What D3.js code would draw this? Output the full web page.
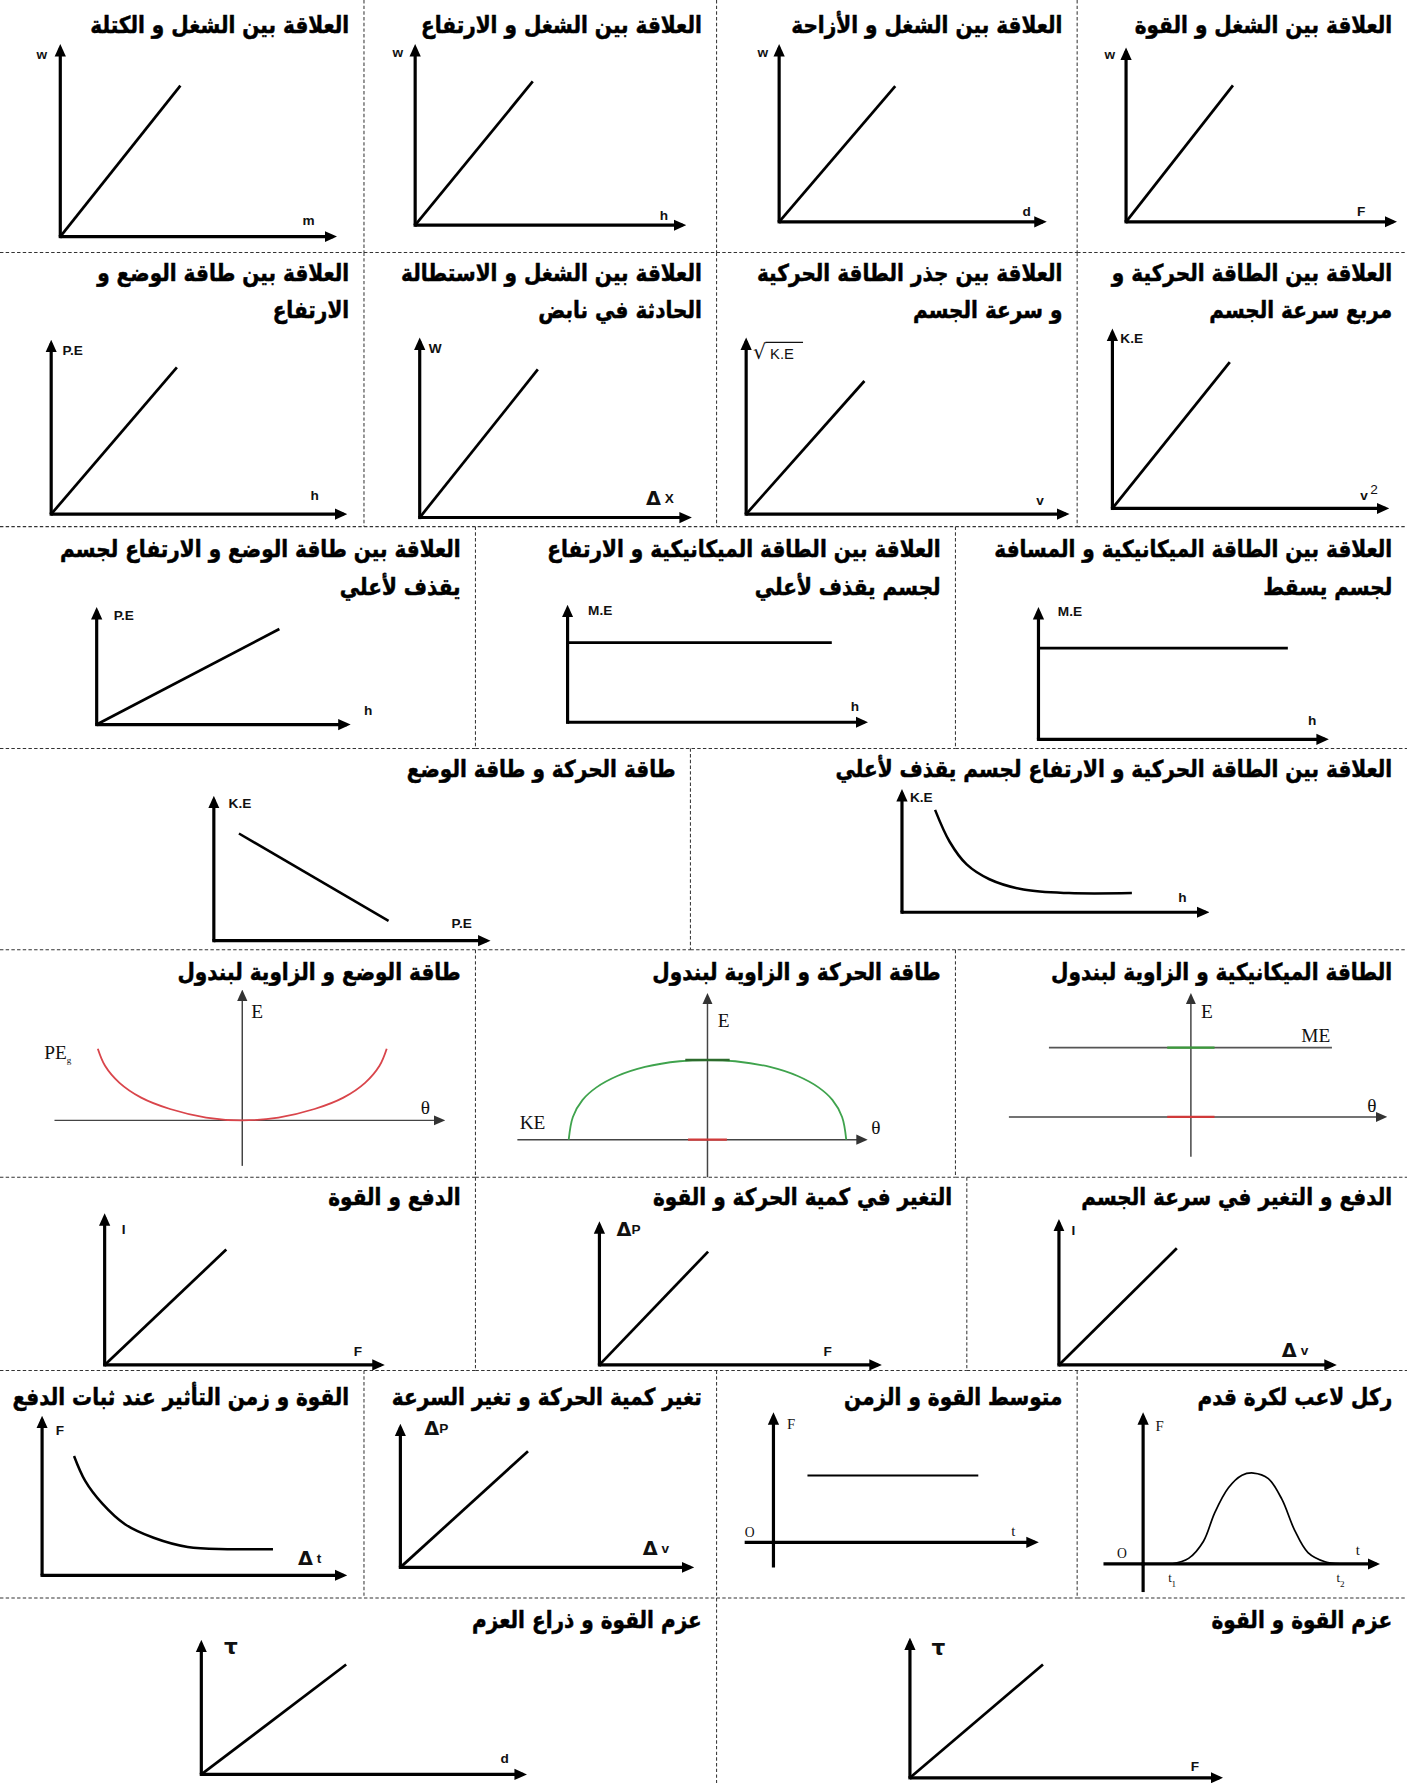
<!DOCTYPE html>
<html>
<head>
<meta charset="utf-8">
<script src="https://cdn.jsdelivr.net/npm/d3@7"></script>
<style>
  body { margin: 0; background: #fff; }
</style>
</head>
<body>
<script>
// ---- data (panel order: right to left, top to bottom) ----
let titles = [
  ["العلاقة بين الشغل و القوة"],
  ["العلاقة بين الشغل و  الأزاحة"],
  ["العلاقة بين الشغل و الارتفاع"],
  ["العلاقة بين الشغل و الكتلة"],
  ["العلاقة بين الطاقة الحركية و", "مربع سرعة الجسم"],
  ["العلاقة بين جذر الطاقة الحركية", "و سرعة الجسم"],
  ["العلاقة بين الشغل و الاستطالة", "الحادثة في نابض"],
  ["العلاقة بين طاقة الوضع و", "الارتفاع"],
  ["العلاقة بين الطاقة الميكانيكية و المسافة", "لجسم يسقط"],
  ["العلاقة بين الطاقة الميكانيكية و الارتفاع", "لجسم يقذف لأعلي"],
  ["العلاقة بين طاقة الوضع و الارتفاع لجسم", "يقذف لأعلي"],
  ["العلاقة بين الطاقة الحركية و الارتفاع لجسم يقذف لأعلي"],
  ["طاقة الحركة و طاقة الوضع"],
  ["الطاقة الميكانيكية و الزاوية لبندول"],
  ["طاقة الحركة و الزاوية لبندول"],
  ["طاقة الوضع و الزاوية لبندول"],
  ["الدفع و التغير في سرعة الجسم"],
  ["التغير في كمية الحركة و القوة"],
  ["الدفع و القوة"],
  ["ركل لاعب لكرة قدم"],
  ["متوسط القوة و الزمن"],
  ["تغير كمية الحركة و تغير السرعة"],
  ["القوة و زمن التأثير عند ثبات الدفع"],
  ["عزم القوة و القوة"],
  ["عزم القوة و ذراع العزم"]
];

let yNames = ["w", "w", "w", "w", "K.E", "√K.E", "W", "P.E", "M.E", "M.E", "P.E", "K.E", "K.E",
  "E", "E", "E", "I", "ΔP", "I", "F", "F", "ΔP", "F", "τ", "τ"];
let xNames = ["F", "d", "h", "m", "v^2", "v", "Δ X", "h", "h", "h", "h", "h", "P.E",
  "θ", "θ", "θ", "Δ v", "F", "F", "t", "t", "Δ v", "Δ t", "F", "d"];

// end point of the straight lines that start at the origin (null = other shape)
let straightEnds = [[4.0, 8.0], [4.4, 7.8], [4.4, 8.1], [4.4, 8.0], [4.3, 8.3], [3.7, 7.7], [4.4, 8.4], [4.3, 8.6],
  null, null, [7.3, 8.4], null, null, null, null, null,
  [4.3, 8.2], [3.9, 8.1], [4.4, 7.8], null, null, [4.4, 8.3], null, [4.3, 8.3], [4.5, 8.4]];

let meFalling = [[0, 7.1], [8.7, 7.1]];
let meThrown = [[0, 7.0], [8.9, 7.0]];
let keHeight = [[1.09, 8.57], [1.57, 5.9], [2.13, 4.0], [2.88, 2.76], [4.0, 1.9], [5.5, 1.6], [7.57, 1.6]];
let keVsPe = [[0.92, 7.6], [6.4, 1.4]];
let mePendulum = [[-7.8, 5.75], [7.75, 5.75]];
let kePendulum = [[-10, 0], [-9.7, 2.0], [-9, 3.5], [-8, 4.6], [-6.5, 5.6], [-4.5, 6.4], [-2, 6.9], [0, 7],
  [2, 6.9], [4.5, 6.4], [6.5, 5.6], [8, 4.6], [9, 3.5], [9.7, 2.0], [10, 0]];
let pePendulum = [[-10, 6.3], [-9.5, 4.8], [-8.5, 3.3], [-7, 2.0], [-5, 1.0], [-2.5, 0.25], [0, 0],
  [2.5, 0.25], [5, 1.0], [7, 2.0], [8.5, 3.3], [9.5, 4.8], [10, 6.3]];
let kickForce = [[1.22, 0], [1.95, 0.38], [2.59, 1.54], [3.07, 3.46], [3.66, 5.15], [4.24, 6.0], [4.73, 6.15],
  [5.37, 5.77], [5.95, 4.38], [6.49, 2.31], [7.07, 0.77], [7.8, 0.15], [8.44, 0]];
let averageForce = [[1.3, 5.3], [7.83, 5.3]];
let forceTime = [[1.06, 7.66], [1.43, 6.06], [2.0, 4.6], [2.75, 3.28], [3.7, 2.41], [4.83, 1.82], [6.15, 1.68], [7.66, 1.68]];

// ---- layout (in units of the 1237 wide reference) ----
let frames = [
  {cell: [947, 0, 1237, 222], xr: [990, 1225], yr: [195, 45], xLab: [1193, 190], yLab: [971, 52]},
  {cell: [630, 0, 947, 222], xr: [685, 917], yr: [195, 42], xLab: [899, 190], yLab: [666, 50]},
  {cell: [320, 0, 630, 222], xr: [365, 600], yr: [198, 42], xLab: [580, 193], yLab: [345, 50]},
  {cell: [0, 0, 320, 222], xr: [53, 293], yr: [208, 42], xLab: [266, 198], yLab: [32, 52]},
  {cell: [947, 222, 1237, 463], xr: [978, 1218], yr: [447, 292], xLab: [1196, 440], yLab: [985, 302]},
  {cell: [630, 222, 947, 463], xr: [656, 937], yr: [452, 300], xLab: [911, 444], yLab: [662, 316]},
  {cell: [320, 222, 630, 463], xr: [369, 605], yr: [455, 300], xLab: [568, 444], yLab: [377, 310]},
  {cell: [0, 222, 320, 463], xr: [45, 302], yr: [452, 302], xLab: [273, 440], yLab: [55, 312]},
  {cell: [840, 463, 1237, 658], xr: [913, 1165], yr: [650, 537], xLab: [1150, 637], yLab: [930, 542]},
  {cell: [418, 463, 840, 658], xr: [499, 760], yr: [635, 535], xLab: [748, 625], yLab: [517, 541]},
  {cell: [0, 463, 418, 658], xr: [85, 305], yr: [637, 537], xLab: [320, 629], yLab: [100, 545]},
  {cell: [607, 658, 1237, 835], xr: [793, 1060], yr: [802, 697], xLab: [1036, 793], yLab: [800, 705]},
  {cell: [0, 658, 607, 835], xr: [188, 428], yr: [827, 703], xLab: [397, 816], yLab: [201, 710]},
  {cell: [840, 835, 1237, 1035], xd: [-10, 10], xr: [887, 1207], yr: [982, 876], xAx: [-10, 10.6], yAx: [-3.3, 10],
    thin: true, xLab: [1202, 978], yLab: [1056, 895]},
  {cell: [418, 835, 840, 1035], xd: [-10, 10], xr: [500, 744], yr: [1002, 902], xAx: [-13.7, 11.3], yAx: [-3.3, 12.6],
    thin: true, xLab: [766, 997], yLab: [631, 903]},
  {cell: [0, 835, 418, 1035], xd: [-10, 10], xr: [86, 340], yr: [985, 885], xAx: [-13, 13.8], yAx: [-4, 11.2],
    thin: true, xLab: [370, 979], yLab: [221, 895]},
  {cell: [850, 1035, 1237, 1205], xr: [931, 1172], yr: [1200, 1075], xLab: [1127, 1193], yLab: [942, 1086]},
  {cell: [418, 1035, 850, 1205], xr: [527, 772], yr: [1200, 1077], xLab: [724, 1192], yLab: [542, 1087]},
  {cell: [0, 1035, 418, 1205], xr: [92, 335], yr: [1200, 1070], xLab: [311, 1192], yLab: [107, 1085]},
  {cell: [947, 1205, 1237, 1405], xr: [1005, 1210], yr: [1375, 1245], xAx: [-1.7, 10], yAx: [-1.9, 10],
    serif: true, xLab: [1192, 1367], yLab: [1016, 1258]},
  {cell: [630, 1205, 947, 1405], xr: [680, 910], yr: [1356, 1245], xAx: [-1.1, 10], yAx: [-2, 10],
    serif: true, xLab: [889, 1350], yLab: [692, 1256]},
  {cell: [320, 1205, 630, 1405], xr: [352, 607], yr: [1378, 1255], xLab: [565, 1367], yLab: [373, 1262]},
  {cell: [0, 1205, 320, 1405], xr: [37, 302], yr: [1385, 1248], xLab: [262, 1376], yLab: [49, 1262]},
  {cell: [630, 1405, 1237, 1568], xr: [800, 1072], yr: [1563, 1443], xLab: [1047, 1557], yLab: [819, 1455]},
  {cell: [0, 1405, 630, 1568], xr: [177, 460], yr: [1560, 1445], xLab: [440, 1550], yLab: [197, 1454]}
];
let titleBaselines = {0: [29], 222: [247, 280], 463: [490, 523], 658: [683], 835: [862], 1035: [1059], 1205: [1235], 1405: [1431]};

let k = 1407 / 1237;
let svg = d3.select("body").append("svg")
    .attr("width", 1407)
    .attr("height", 1783);
svg.append("rect").attr("width", 1407).attr("height", 1783).attr("fill", "#fff");

let defs = svg.append("defs");
function addMarker(id, size, color) {
  defs.append("marker")
      .attr("id", id)
      .attr("viewBox", "0 0 10 10")
      .attr("refX", 7).attr("refY", 5)
      .attr("markerWidth", size).attr("markerHeight", size)
      .attr("markerUnits", "userSpaceOnUse")
      .attr("orient", "auto")
    .append("path")
      .attr("d", "M0,0.5 L10,5 L0,9.5 Z")
      .attr("fill", color);
}
addMarker("arrow", 11, "#000");
addMarker("arrowThin", 10, "#333");

let g = svg.append("g").attr("transform", "scale(" + k + ")");

// dashed dividers
let grid = g.append("g").attr("stroke", "#333").attr("stroke-width", 0.9).attr("stroke-dasharray", "3,2");
frames.forEach(f => {
  let [x0, y0, x1, y1] = f.cell;
  if (x0 > 0) grid.append("line").attr("x1", x0).attr("x2", x0).attr("y1", y0).attr("y2", y1);
  grid.append("line").attr("x1", x0).attr("x2", x1).attr("y1", y1).attr("y2", y1);
});

function drawLabel(sel, text, x, y, serif) {
  let t = sel.append("text").attr("x", x).attr("y", y)
      .attr("font-family", serif ? "Liberation Serif" : "Liberation Sans")
      .attr("font-weight", serif ? "normal" : "bold")
      .attr("font-size", serif ? 13 : 12)
      .attr("fill", "#111");
  if (text.startsWith("Δ")) {
    t.append("tspan").text("Δ").attr("font-size", 17).attr("font-family", "DejaVu Sans").attr("font-weight", "bold");
    t.append("tspan").text(text.slice(1)).attr("font-size", 12).attr("dy", -2);
  } else if (text.includes("^")) {
    let [a, b] = text.split("^");
    t.append("tspan").text(a);
    t.append("tspan").text(b).attr("font-size", 12).attr("font-weight", "normal").attr("dx", 2).attr("dy", -6);
  } else if (text.includes("_")) {
    let [a, b] = text.split("_");
    t.append("tspan").text(a);
    t.append("tspan").text(b).attr("font-size", 8).attr("dy", 4);
  } else if (text.startsWith("√")) {
    t.append("tspan").text("√").attr("font-size", 18).attr("font-weight", "normal").attr("font-family", "DejaVu Sans");
    t.append("tspan").text(" " + text.slice(1)).attr("font-weight", "normal").attr("font-size", 13);
    sel.append("line").attr("x1", x + 11).attr("x2", x + 44).attr("y1", y - 15).attr("y2", y - 15)
        .attr("stroke", "#111").attr("stroke-width", 1.2);
  } else if (text === "τ") {
    t.attr("font-family", "DejaVu Sans").attr("font-size", 19).text(text);
  } else {
    t.text(text);
  }
  return t;
}

frames.forEach((f, i) => {
  let p = g.append("g");
  let x = d3.scaleLinear().domain(f.xd || [0, 10]).range(f.xr);
  let y = d3.scaleLinear().domain([0, 10]).range(f.yr);
  let line = d3.line().x(d => x(d[0])).y(d => y(d[1]));
  let xAx = f.xAx || [0, 10], yAx = f.yAx || [0, 10];

  // title, squeezed horizontally to the narrower face of the reference
  let right = f.cell[2] - 13;
  let avail = f.cell[2] - f.cell[0] - 24;
  titleBaselines[f.cell[1]].forEach((by, j) => {
    if (!titles[i][j]) return;
    let tg = p.append("g");
    let t = tg.append("text")
        .attr("x", 0).attr("y", 0)
        .attr("text-anchor", "end")
        .attr("font-family", "DejaVu Sans")
        .attr("font-weight", "bold")
        .attr("font-size", 20.5)
        .attr("fill", "#000")
        .attr("stroke", "#000")
        .attr("stroke-width", 0.45)
        .text(titles[i][j]);
    let w = t.node().getComputedTextLength();
    let sx = Math.min(0.86, avail / w);
    tg.attr("transform", "translate(" + right + "," + by + ") scale(" + sx + ",1)");
  });

  // axes
  let axisStyle = f.thin
    ? {stroke: "#444", width: 1.3, marker: "url(#arrowThin)"}
    : {stroke: "#000", width: 2.8, marker: "url(#arrow)"};
  p.append("path").attr("d", line([[xAx[0], 0], [xAx[1], 0]]))
      .attr("stroke", axisStyle.stroke).attr("stroke-width", axisStyle.width)
      .attr("fill", "none").attr("marker-end", axisStyle.marker);
  p.append("path").attr("d", line([[0, yAx[0]], [0, yAx[1]]]))
      .attr("stroke", axisStyle.stroke).attr("stroke-width", axisStyle.width)
      .attr("fill", "none").attr("marker-end", axisStyle.marker);
  if (!f.thin) {
    // fill the corner of the two thick axes
    p.append("rect").attr("x", x(0) - 1.4).attr("y", y(0) - 1.4).attr("width", 2.8).attr("height", 2.8).attr("fill", "#000");
  }

  // straight lines from the origin
  if (straightEnds[i]) {
    p.append("path").attr("d", line([[0, 0], straightEnds[i]]))
        .attr("stroke", "#000").attr("stroke-width", 2.4).attr("fill", "none");
  }

  // labels
  let serif = f.thin || f.serif;
  drawLabel(p, yNames[i], f.yLab[0], f.yLab[1], serif);
  drawLabel(p, xNames[i], f.xLab[0], f.xLab[1], serif);

  f.x = x; f.y = y; f.g = p;
});

function curve(idx, pts, color, width, type) {
  let f = frames[idx];
  f.g.append("path")
      .attr("d", d3.line().x(d => f.x(d[0])).y(d => f.y(d[1])).curve(type || d3.curveLinear)(pts))
      .attr("stroke", color).attr("stroke-width", width).attr("fill", "none");
}

curve(8, meFalling, "#000", 2.4);
curve(9, meThrown, "#000", 2.4);
curve(11, keHeight, "#000", 2.2, d3.curveCatmullRom);
curve(12, keVsPe, "#000", 2.2);
curve(13, mePendulum, "#555", 1.4);
curve(13, [[-1.3, 5.75], [1.3, 5.75]], "#3a9a3a", 2);
curve(13, [[-1.3, 0], [1.3, 0]], "#d03a3a", 2);
curve(14, kePendulum, "#3fa34d", 1.6, d3.curveCatmullRom);
curve(14, [[-1.6, 7], [1.6, 7]], "#2d6b2d", 2.2);
curve(14, [[-1.4, 0], [1.4, 0]], "#d03a3a", 2);
curve(15, pePendulum, "#d9454b", 1.6, d3.curveCatmullRom);
curve(19, kickForce, "#000", 1.5, d3.curveCatmullRom);
curve(20, averageForce, "#000", 1.8);
curve(22, forceTime, "#000", 2.2, d3.curveCatmullRom);

// extra labels on the pendulum and kick panels
function serifText(idx, text, xv, yv, dx, dy, size) {
  let f = frames[idx];
  drawLabel(f.g, text, f.x(xv) + dx, f.y(yv) + dy, true).attr("font-size", size || 13);
}
serifText(13, "ME", 7.75, 5.75, -27, -5, 17);
serifText(14, "KE", -13.7, 0, 2, -9, 17);
serifText(15, "PE_g", -13, 6.3, -9, 9, 17);
serifText(19, "O", -1.7, 0, 12, -5, 12);
serifText(19, "t_1", kickForce[0][0], 0, -3, 16, 11);
serifText(19, "t_2", kickForce[kickForce.length - 1][0], 0, -3, 16, 11);
serifText(20, "O", -1.1, 0, 0, -5, 12);
g.selectAll("text").filter(function() { return ["E", "θ"].includes(this.textContent); })
    .attr("font-size", 17);
</script>
</body>
</html>
